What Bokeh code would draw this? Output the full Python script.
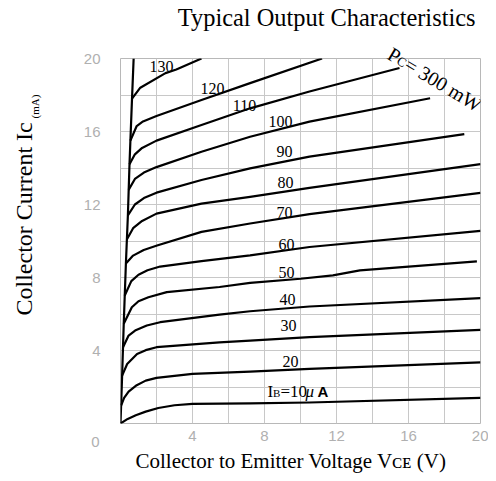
import math
from bokeh.plotting import figure
from bokeh.models import Range1d, FixedTicker, Label, ColumnDataSource
from bokeh.core.properties import value
from bokeh.embed import file_html
from bokeh.resources import INLINE

# ---------------- data ----------------
x_ticks = [4, 8, 12, 16, 20]
y_ticks = [4, 8, 12, 16, 20]

# saturation edge (steep line)
sat_v = [0, 0.09, 0.18, 0.30, 0.41, 0.50, 0.55, 0.64, 0.73]
sat_i = [0, 2.62, 5.46, 8.77, 11.4, 14.2, 15.5, 17.8, 20.0]

v10 = [0, 0.4, 0.85, 1.4, 2.1, 3.0, 4.0, 7.2, 10.5, 20]
i10 = [0, 0.25, 0.45, 0.65, 0.85, 1.0, 1.08, 1.10, 1.15, 1.40]
v20 = [0.04, 0.2, 0.45, 0.9, 1.4, 2.0, 4.0, 7.2, 10.5, 20]
i20 = [1.0, 1.4, 1.75, 2.1, 2.35, 2.5, 2.72, 2.84, 2.99, 3.35]
v30 = [0.09, 0.37, 0.92, 1.4, 2.0, 5.5, 7.2, 10.5, 20]
i30 = [2.62, 3.26, 3.81, 4.02, 4.18, 4.45, 4.54, 4.73, 5.13]
v40 = [0.14, 0.45, 0.81, 1.46, 2.2, 5.5, 7.2, 10.5, 20]
i40 = [4.18, 4.82, 5.09, 5.37, 5.55, 5.97, 6.15, 6.41, 6.87]
v50 = [0.18, 0.63, 1.0, 1.55, 2.57, 5.5, 7.2, 10.0, 11.8, 13.3, 19.8]
i50 = [5.46, 6.37, 6.7, 6.92, 7.2, 7.48, 7.71, 7.93, 8.12, 8.39, 8.88]
v60 = [0.23, 0.6, 1.0, 1.5, 2.2, 4.5, 7.2, 10.5, 20]
i60 = [7.0, 7.8, 8.15, 8.4, 8.6, 8.9, 9.21, 9.67, 10.55]
v70 = [0.30, 0.7, 1.29, 2.03, 4.5, 7.2, 10.5, 20]
i70 = [8.77, 9.2, 9.51, 9.75, 10.5, 10.96, 11.47, 12.64]
v80 = [0.36, 0.7, 1.2, 2.0, 4.5, 7.2, 10.5, 20]
i80 = [10.1, 10.7, 11.1, 11.5, 12.05, 12.42, 12.91, 14.21]
v90 = [0.41, 0.8, 1.3, 2.0, 4.5, 7.2, 10.5, 19.1]
i90 = [11.4, 12.0, 12.35, 12.65, 13.34, 13.98, 14.62, 15.86]
v100 = [0.45, 0.8, 1.3, 2.0, 4.5, 7.2, 10.5, 17.2]
i100 = [12.8, 13.4, 13.75, 14.05, 14.89, 15.71, 16.54, 17.82]
v110 = [0.50, 0.8, 1.2, 2.0, 4.5, 7.2, 10.5, 15.5]
i110 = [14.2, 14.75, 15.1, 15.5, 16.36, 17.27, 18.19, 19.48]
v120 = [0.55, 0.9, 1.25, 2.0, 4.5, 7.2, 11.2]
i120 = [15.5, 16.3, 16.55, 16.85, 17.73, 18.65, 20.0]
v130 = [0.64, 1.1, 2.5, 3.1, 4.5]
i130 = [17.8, 18.4, 19.2, 19.4, 20.0]

curve_v = [v10, v20, v30, v40, v50, v60, v70, v80, v90, v100, v110, v120, v130]
curve_i = [i10, i20, i30, i40, i50, i60, i70, i80, i90, i100, i110, i120, i130]

# curve label anchors (V, mA) for IB = 20 ... 130
lab_text = ["20", "30", "40", "50", "60", "70", "80", "90", "100", "110", "120", "130"]
lab_x = [9.44, 9.33, 9.28, 9.22, 9.22, 9.11, 9.17, 9.11, 8.89, 6.89, 5.11, 2.28]
lab_y = [3.40, 5.37, 6.79, 8.27, 9.81, 11.56, 13.21, 14.90, 16.55, 17.42, 18.36, 19.56]

# ---------------- figure ----------------
W, H = 488, 473
L, R, T, B = 120, 8, 58, 50

p = figure(width=W, height=H, output_backend="svg", toolbar_location=None,
           x_range=Range1d(0, 20), y_range=Range1d(0, 20),
           min_border_left=L, min_border_right=R, min_border_top=T, min_border_bottom=B,
           background_fill_color="white", border_fill_color="white")
p.outline_line_color = "#b8b8b8"
p.outline_line_width = 1

grid_ticks = list(range(0, 21, 2))
p.xgrid.ticker = FixedTicker(ticks=grid_ticks)
p.ygrid.ticker = FixedTicker(ticks=grid_ticks)
p.xgrid.grid_line_color = "#c8c8c8"
p.ygrid.grid_line_color = "#c8c8c8"
p.xgrid.grid_line_width = 1
p.ygrid.grid_line_width = 1

tick_font = "Liberation Sans"
tick_color = "#b0b0b0"
for ax in (p.xaxis[0], p.yaxis[0]):
    ax.axis_line_color = None
    ax.major_tick_line_color = None
    ax.minor_tick_line_color = None
    ax.major_tick_in = 0
    ax.major_tick_out = 0
    ax.major_label_text_font = tick_font
    ax.major_label_text_font_size = "15px"
    ax.major_label_text_color = tick_color
p.xaxis[0].ticker = FixedTicker(ticks=x_ticks)
p.yaxis[0].ticker = FixedTicker(ticks=y_ticks)
p.xaxis[0].major_label_standoff = 7
p.yaxis[0].major_label_standoff = 20

serif = "Liberation Serif"
KB = 0.25  # baseline compensation (fraction of font size)


def label(txt, px, py, size, side=None, font=serif, align="left", angle=0.0,
          style="normal", color="black", baseline="alphabetic"):
    s = float(size.replace("px", ""))
    k = KB if baseline == "alphabetic" else 0.0
    upx, upy = -math.sin(angle), -math.cos(angle)
    lab = Label(x=px + k * s * upx, y=py + k * s * upy, x_units="canvas", y_units="canvas",
                text=txt, text_font=font, text_font_size=size, text_align=align,
                text_baseline=baseline, angle=angle, text_font_style=style,
                text_color=color)
    if side is None:
        p.add_layout(lab)
    else:
        p.add_layout(lab, side)


# corner "0" tick label
label("0", 95, 441.5, "15px", side="left", font=tick_font, align="center",
      baseline="middle", color=tick_color)

# curves
p.line(sat_v, sat_i, line_color="black", line_width=2.2)
for cv, ci in zip(curve_v, curve_i):
    p.line(cv, ci, line_color="black", line_width=2.2, line_join="round")

src = ColumnDataSource(dict(x=lab_x, y=lab_y, t=lab_text))
p.text(x="x", y="y", text="t", source=src, text_font=value(serif),
       text_font_size="16px", text_color="black",
       text_align="center", text_baseline="middle")

# IB = 10 uA label (inside the frame)
label("I", 267, 395, "17px")
label("B", 272.5, 395, "11px")
label("=10", 280, 395, "17px")
label("\u03bc", 305, 395, "17px", style="italic")
label("A", 317, 395, "15px", font="Liberation Sans", style="bold")

# Pc = 300 mW (rotated)
ang = -math.radians(31)
ux, uy = math.cos(-ang), math.sin(-ang)
sx, sy = 386.5, 56.0
label("P", sx, sy, "20px", side="above", angle=ang)
label("C", sx + ux * 11.1, sy + uy * 11.1, "13px", side="left", angle=ang)
label("= 300 mW", sx + ux * 19.8, sy + uy * 19.8, "20px", angle=ang)

# title
label("Typical Output Characteristics", 475, 23.0, "24.4px", side="above", align="right")

# y axis title (rotated)
label("Collector Current Ic", 29, 315, "24px", side="left", angle=math.pi / 2)
label("(mA)", 37, 118, "11px", side="left", angle=math.pi / 2)

# x axis title
label("Collector to Emitter Voltage V\u1d04\u1d07 (V)", 135, 466, "21px", side="below")

open("out.html", "w").write(file_html(p, INLINE))
